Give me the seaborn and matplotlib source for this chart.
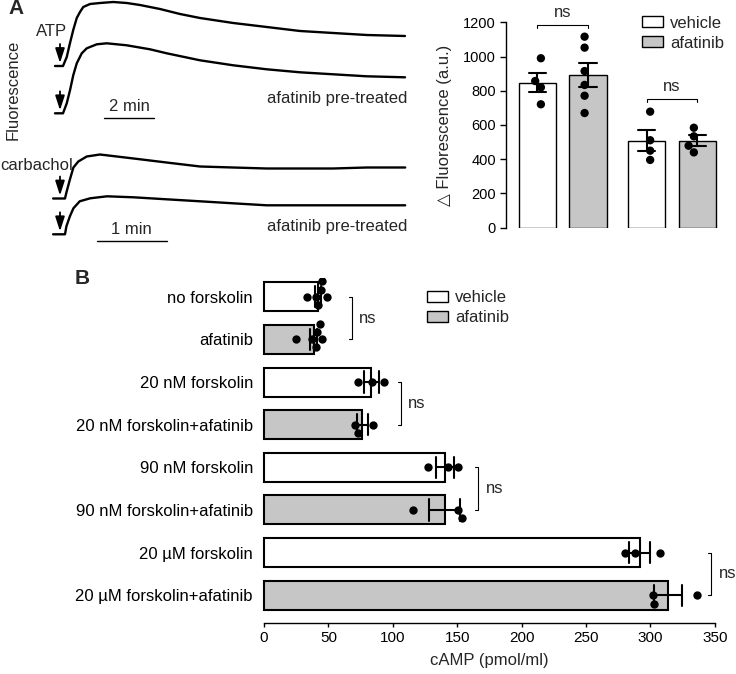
import numpy as np
import pandas as pd
import seaborn as sns
import matplotlib.pyplot as plt
from matplotlib.patches import Patch

# ---- panel A, calcium traces: time (min) and rise above baseline (a.u.)
atp_veh_t = [-0.32, 0.0, 0.15, 0.28, 0.41, 0.55, 0.68, 0.81, 1.08, 1.48, 2.01, 2.55,
             3.08, 3.88, 4.68, 5.48, 6.81, 8.15, 9.48, 10.81, 12.15, 13.68]
atp_veh_f = [0, 0, 9, 23, 36, 48, 54, 59, 62, 63, 64, 63, 61, 57, 52, 48, 43, 39, 35, 33, 31, 30]
atp_afa_t = [-0.32, 0.0, 0.15, 0.28, 0.41, 0.55, 0.75, 0.95, 1.35, 1.75, 2.55, 3.48,
             4.15, 5.48, 6.81, 8.15, 9.48, 10.81, 12.15, 13.68]
atp_afa_f = [0, 0, 10, 23, 38, 50, 60, 65, 69, 70, 68, 64, 60, 53, 48, 44, 41, 39, 37, 36]
carb_veh_t = [-0.17, 0.0, 0.02, 0.07, 0.12, 0.19, 0.31, 0.5, 0.74, 0.98, 1.45, 1.93,
              2.4, 2.88, 3.36, 3.83, 4.31, 4.86]
carb_veh_f = [0, 0, 6, 19, 31, 37, 42, 44, 42, 40, 36, 32, 31, 30, 30, 30, 31, 31]
carb_afa_t = [-0.17, 0.0, 0.02, 0.07, 0.12, 0.21, 0.36, 0.6, 0.98, 1.45, 1.93, 2.4,
              2.88, 3.36, 3.83, 4.31, 4.86]
carb_afa_f = [0, 0, 8, 18, 26, 33, 36, 38, 37, 35, 33, 31, 29, 29, 29, 29, 29]

# ---- panel A, peak delta fluorescence
stims = ['ATP', 'carbachol']
treatments = ['vehicle', 'afatinib']
atp_vehicle = [990, 857, 820, 721]
atp_afatinib = [1116, 1052, 915, 834, 771, 670]
carb_vehicle = [678, 511, 450, 396]
carb_afatinib = [584, 534, 479, 440]

# ---- panel B, cAMP
conditions = ['no forskolin', 'afatinib', '20 nM forskolin', '20 nM forskolin+afatinib',
              '90 nM forskolin', '90 nM forskolin+afatinib', '20 µM forskolin',
              '20 µM forskolin+afatinib']
camp_values = [
    [45, 40, 42, 33, 44, 49],
    [41, 37, 25, 45, 40, 43.5],
    [73, 84, 93],
    [73, 71, 85],
    [127, 143, 151],
    [116, 151, 153.5],
    [280, 288, 307.5],
    [303, 302, 336],
]
b_bracket_x = [68, 106, 166, 347]

fills = {'vehicle': 'white', 'afatinib': '#c6c6c6'}

sns.set_style('ticks')
plt.rcParams['font.family'] = ['Liberation Sans', 'DejaVu Sans']
plt.rcParams['axes.linewidth'] = 1.0
plt.rcParams['axes.edgecolor'] = 'black'
plt.rcParams['xtick.color'] = 'black'
plt.rcParams['ytick.color'] = 'black'

W, H = 736, 674
fig = plt.figure(figsize=(W / 100, H / 100), dpi=100)


def rect(x0, y0, x1, y1):
    # pixel box (top-left origin) -> figure fraction
    return [x0 / W, 1 - y1 / H, (x1 - x0) / W, (y1 - y0) / H]


# ================= A: traces =================
axT = fig.add_axes(rect(0, 0, 420, 250))
traces = [
    (atp_veh_t, atp_veh_f, 63, 25, 66),
    (atp_afa_t, atp_afa_f, 63, 25, 113.3),
    (carb_veh_t, carb_veh_f, 65, 70, 198.5),
    (carb_afa_t, carb_afa_f, 65, 70, 234.3),
]
for t, f, x0, ppm, base in traces:
    xs = x0 + ppm * np.array(t)
    ys = base - np.array(f)
    sns.lineplot(x=xs, y=ys, ax=axT, color='k', lw=1.7, sort=False, estimator=None)
    axT.annotate('', xy=(60, base - 3), xytext=(60, base - 22),
                 arrowprops=dict(arrowstyle='-|>,head_length=0.62,head_width=0.2',
                                 mutation_scale=14, color='k', lw=1.3,
                                 shrinkA=0, shrinkB=0))
axT.set_xlim(0, 420)
axT.set_ylim(250, 0)
axT.axis('off')

axT.text(16.5, 9, 'A', fontsize=15, fontweight='bold', ha='center', va='center')
axT.text(13, 90, 'Fluorescence', fontsize=12, rotation=90, ha='center', va='center')
axT.text(52, 32, 'ATP', fontsize=12, ha='center', va='center')
axT.text(36.5, 165.5, 'carbachol', fontsize=12, ha='center', va='center')
axT.text(407, 99, 'afatinib pre-treated', fontsize=12, ha='right', va='center')
axT.text(407, 227, 'afatinib pre-treated', fontsize=12, ha='right', va='center')
# scale bars
axT.plot([104, 104 + 2 * 25], [117.7, 117.7], color='k', lw=1)
axT.text(129, 106.5, '2 min', fontsize=12, ha='center', va='center')
axT.plot([96.7, 96.7 + 1 * 70], [240.7, 240.7], color='k', lw=1)
axT.text(131, 229, '1 min', fontsize=12, ha='center', va='center')

# ================= A: bars =================
rows = []
for stim, treat, vals in [('ATP', 'vehicle', atp_vehicle), ('ATP', 'afatinib', atp_afatinib),
                          ('carbachol', 'vehicle', carb_vehicle),
                          ('carbachol', 'afatinib', carb_afatinib)]:
    for v in vals:
        rows.append({'stim': stim, 'treatment': treat, 'value': v})
df_a = pd.DataFrame(rows)

axA = fig.add_axes(rect(505.7, 22.3, 725, 227.7))
width_a = 0.9245
sns.barplot(data=df_a, x='stim', y='value', hue='treatment', order=stims,
            hue_order=treatments, palette=fills, errorbar='se', capsize=0.32,
            width=width_a, gap=0.258, edgecolor='k', linewidth=1,
            err_kws={'color': 'k', 'linewidth': 1.5}, legend=False, ax=axA)
sns.swarmplot(data=df_a, x='stim', y='value', hue='treatment', order=stims,
              hue_order=treatments, dodge=True, palette={'vehicle': 'k', 'afatinib': 'k'},
              size=6, legend=False, ax=axA)
axA.set_xlim(-0.522, 1.485)
axA.set_ylim(0, 1200)
axA.set_yticks(range(0, 1201, 200))
sns.despine(ax=axA, bottom=True)
axA.set_xticks([])
axA.set_xlabel('')
axA.set_ylabel('△ Fluorescence (a.u.)', fontsize=12, labelpad=8)
axA.tick_params(axis='y', length=4.5, width=1, labelsize=10.5, pad=2.5)

off = width_a / 4
for i, yb in enumerate([1184, 750]):
    axA.plot([i - off, i - off, i + off, i + off], [yb - 16, yb, yb, yb - 16],
             color='k', lw=0.8, clip_on=False)
    axA.text(i, yb + 46, 'ns', fontsize=12, ha='center', va='baseline', clip_on=False)

handles = [Patch(facecolor=fills[t], edgecolor='k', linewidth=1) for t in treatments]
fig.legend(handles, treatments, loc='upper left', bbox_to_anchor=(642 / W, 1 - 15.5 / H),
           frameon=False, fontsize=12, handlelength=1.26, handleheight=0.63,
           handletextpad=0.42, labelspacing=0.3, borderpad=0, borderaxespad=0)

# ================= B =================
rows = []
for i, (cond, vals) in enumerate(zip(conditions, camp_values)):
    for v in vals:
        rows.append({'condition': cond, 'treatment': treatments[i % 2], 'cAMP': v})
df_b = pd.DataFrame(rows)

axB = fig.add_axes(rect(264, 278, 714.8, 622.7))
sns.barplot(data=df_b, x='cAMP', y='condition', hue='treatment', order=conditions,
            hue_order=treatments, palette=fills, dodge=False, errorbar='se', capsize=0.5,
            width=0.68, edgecolor='k', linewidth=1.5,
            err_kws={'color': 'k', 'linewidth': 1.5}, legend=False, ax=axB)
for p in axB.patches:
    p.set_clip_on(False)
sns.swarmplot(data=df_b, x='cAMP', y='condition', order=conditions, color='k',
              size=6, ax=axB)
axB.set_xlim(0, 350)
axB.set_ylim(7.642, -0.438)
sns.despine(ax=axB, left=True)
axB.tick_params(axis='y', length=0, pad=8, labelsize=12)
axB.tick_params(axis='x', length=3, width=1, labelsize=11, pad=3)
axB.set_ylabel('')
axB.set_xlabel('cAMP (pmol/ml)', fontsize=12, labelpad=6)

for k, xb in enumerate(b_bracket_x):
    y0, y1 = 2 * k, 2 * k + 1
    axB.plot([xb - 2, xb, xb, xb - 2], [y0, y0, y1, y1], color='k', lw=0.8, clip_on=False)
    axB.text(xb + 6, y0 + 0.5, 'ns', fontsize=12, ha='left', va='center', clip_on=False)

fig.text(82 / W, 1 - 279 / H, 'B', fontsize=15, fontweight='bold', ha='center', va='center')

fig.legend(handles, treatments, loc='upper left', bbox_to_anchor=(427.3 / W, 1 - 290 / H),
           frameon=False, fontsize=12, handlelength=1.26, handleheight=0.63,
           handletextpad=0.42, labelspacing=0.3, borderpad=0, borderaxespad=0)

fig.savefig('out.png', dpi=100)
